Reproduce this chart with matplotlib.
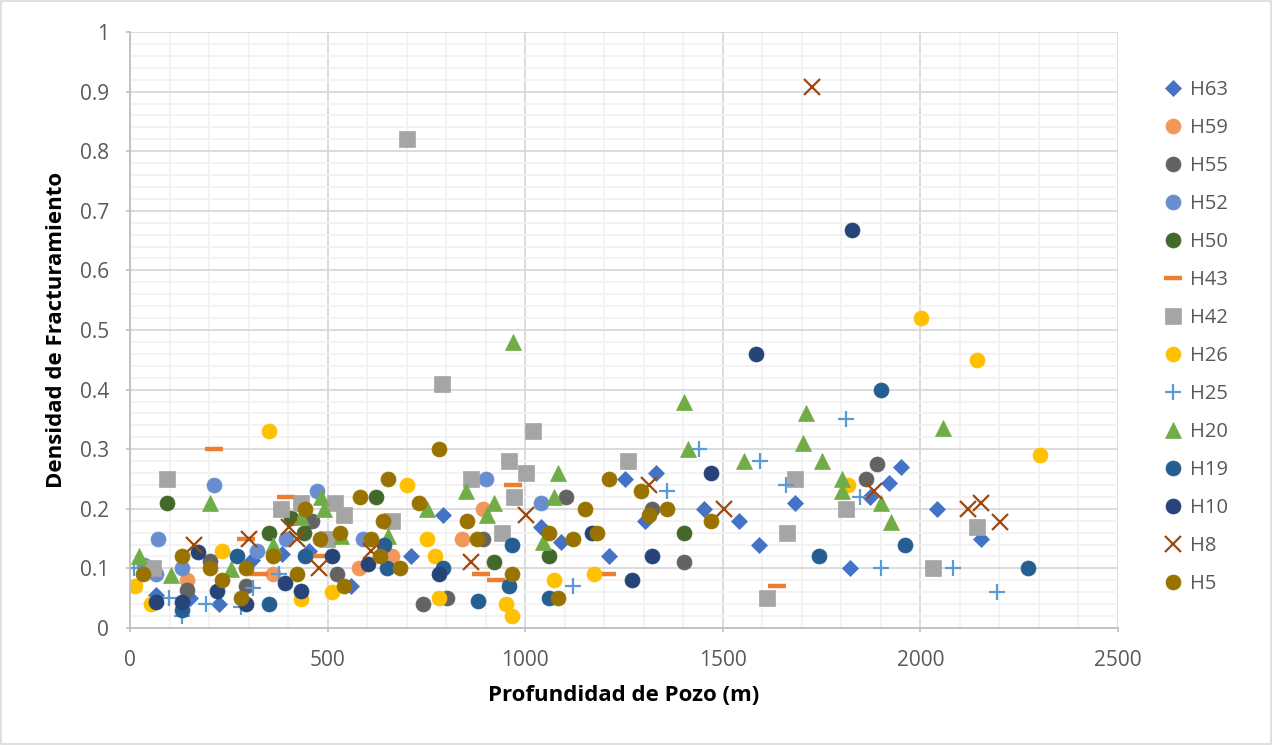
import matplotlib
matplotlib.use("Agg")
import matplotlib.pyplot as plt
from matplotlib.patches import Rectangle
from matplotlib.ticker import MultipleLocator

plt.rcParams['font.family'] = ['Open Sans', 'DejaVu Sans']

# ---------------- data ----------------
series_names = ["H63", "H59", "H55", "H52", "H50", "H43", "H42",
                "H26", "H25", "H20", "H19", "H10", "H8", "H5"]

h63_x = [65, 153, 225, 309, 385, 453, 559, 712, 792, 1040, 1091, 1211, 1253, 1302, 1331,
         1452, 1542, 1591, 1682, 1823, 1872, 1920, 1952, 2042, 2153]
h63_y = [0.055, 0.05, 0.04, 0.114, 0.125, 0.13, 0.07, 0.12, 0.19, 0.17, 0.145, 0.12, 0.25, 0.18, 0.26,
         0.20, 0.18, 0.14, 0.21, 0.10, 0.22, 0.243, 0.27, 0.20, 0.15]

h59_x = [143, 362, 580, 663, 841, 892]
h59_y = [0.08, 0.09, 0.10, 0.12, 0.15, 0.20]

h55_x = [143, 203, 293, 461, 523, 742, 802, 892, 1104, 1322, 1401, 1862, 1891]
h55_y = [0.064, 0.112, 0.07, 0.18, 0.09, 0.04, 0.05, 0.15, 0.22, 0.20, 0.11, 0.25, 0.275]

h52_x = [35, 71, 65, 132, 213, 322, 394, 473, 590, 902, 1041]
h52_y = [0.105, 0.15, 0.09, 0.10, 0.24, 0.13, 0.15, 0.23, 0.15, 0.25, 0.21]

h50_x = [93, 352, 407, 441, 622, 922, 1061, 1401]
h50_y = [0.21, 0.16, 0.185, 0.16, 0.22, 0.11, 0.12, 0.16]

h43_x = [213, 293, 327, 394, 484, 888, 926, 970, 1208, 1636]
h43_y = [0.30, 0.15, 0.09, 0.22, 0.12, 0.09, 0.08, 0.24, 0.09, 0.07]

h42_x = [59, 93, 381, 432, 499, 519, 542, 663, 702, 790, 863, 942, 960, 972, 1003, 1020,
         1261, 1612, 1662, 1682, 1813, 2031, 2142]
h42_y = [0.10, 0.25, 0.20, 0.21, 0.15, 0.21, 0.19, 0.18, 0.82, 0.41, 0.25, 0.16, 0.28, 0.22, 0.26, 0.33,
         0.28, 0.05, 0.16, 0.25, 0.20, 0.10, 0.17]

h26_x = [12, 52, 232, 352, 432, 512, 702, 751, 772, 783, 951, 967, 1072, 1173, 1816, 2001, 2142, 2302]
h26_y = [0.07, 0.041, 0.13, 0.33, 0.049, 0.06, 0.24, 0.15, 0.12, 0.05, 0.04, 0.02, 0.08, 0.09, 0.24, 0.52, 0.45, 0.29]

h25_x = [10, 99, 132, 192, 280, 312, 377, 1122, 1360, 1441, 1593, 1661, 1812, 1848, 1901, 2082, 2193]
h25_y = [0.10, 0.05, 0.02, 0.041, 0.035, 0.067, 0.09, 0.07, 0.23, 0.30, 0.28, 0.24, 0.35, 0.22, 0.10, 0.10, 0.06]

h20_x = [23, 103, 203, 255, 362, 432, 483, 491, 533, 654, 751, 850, 903, 922, 970, 1046, 1072, 1082,
         1401, 1411, 1553, 1702, 1711, 1750, 1801, 1801, 1901, 1926, 2058]
h20_y = [0.12, 0.089, 0.21, 0.099, 0.14, 0.186, 0.22, 0.20, 0.155, 0.155, 0.20, 0.23, 0.19, 0.21, 0.48, 0.145, 0.22, 0.26,
         0.38, 0.30, 0.28, 0.31, 0.36, 0.28, 0.25, 0.23, 0.21, 0.178, 0.335]

h19_x = [132, 271, 352, 443, 643, 651, 792, 881, 959, 967, 1059, 1743, 1901, 1962, 2272]
h19_y = [0.03, 0.12, 0.04, 0.12, 0.14, 0.10, 0.10, 0.045, 0.07, 0.14, 0.05, 0.12, 0.40, 0.14, 0.10]

h10_x = [65, 132, 172, 220, 293, 393, 432, 512, 603, 783, 1170, 1271, 1321, 1469, 1583, 1826]
h10_y = [0.044, 0.044, 0.128, 0.062, 0.04, 0.076, 0.062, 0.12, 0.107, 0.09, 0.16, 0.08, 0.12, 0.26, 0.46, 0.668]

h8_x = [162, 301, 402, 423, 479, 610, 863, 1003, 1312, 1502, 1725, 1882, 2121, 2153, 2201]
h8_y = [0.14, 0.15, 0.17, 0.15, 0.10, 0.13, 0.11, 0.19, 0.24, 0.20, 0.908, 0.23, 0.20, 0.21, 0.178]

h5_x = [33, 132, 203, 233, 281, 293, 362, 422, 443, 481, 532, 542, 583, 610, 633, 641, 654, 684,
        732, 783, 853, 879, 967, 1061, 1082, 1122, 1152, 1182, 1211, 1292, 1312, 1360, 1471]
h5_y = [0.09, 0.12, 0.10, 0.08, 0.05, 0.10, 0.12, 0.09, 0.20, 0.15, 0.16, 0.07, 0.22, 0.15, 0.12, 0.18, 0.25, 0.10,
        0.21, 0.30, 0.18, 0.15, 0.09, 0.16, 0.05, 0.15, 0.20, 0.16, 0.25, 0.23, 0.19, 0.20, 0.18]

x_ticks = [0, 500, 1000, 1500, 2000, 2500]
y_ticks = [0, 0.1, 0.2, 0.3, 0.4, 0.5, 0.6, 0.7, 0.8, 0.9, 1.0]
y_tick_labels = ["0", "0.1", "0.2", "0.3", "0.4", "0.5", "0.6", "0.7", "0.8", "0.9", "1"]

series_data = {
    "H63": (h63_x, h63_y), "H59": (h59_x, h59_y), "H55": (h55_x, h55_y),
    "H52": (h52_x, h52_y), "H50": (h50_x, h50_y), "H43": (h43_x, h43_y),
    "H42": (h42_x, h42_y), "H26": (h26_x, h26_y), "H25": (h25_x, h25_y),
    "H20": (h20_x, h20_y), "H19": (h19_x, h19_y), "H10": (h10_x, h10_y),
    "H8": (h8_x, h8_y), "H5": (h5_x, h5_y),
}

# ---------------- styles ----------------
styles = {
    "H63": dict(marker="D", color="#4472C4", ms=8.6),
    "H59": dict(marker="o", color="#F1975A", ms=10.8),
    "H55": dict(marker="o", color="#636363", ms=10.8),
    "H52": dict(marker="o", color="#698ED0", ms=10.8),
    "H50": dict(marker="o", color="#43682B", ms=10.8),
    "H43": dict(marker="_", color="#ED7D31", ms=13, mew=3.2),
    "H42": dict(marker="s", color="#A5A5A5", ms=12),
    "H26": dict(marker="o", color="#FFC000", ms=10.8),
    "H25": dict(marker="+", color="#5B9BD5", ms=12, mew=1.6),
    "H20": dict(marker="^", color="#70AD47", ms=12),
    "H19": dict(marker="o", color="#255E91", ms=10.8),
    "H10": dict(marker="o", color="#264478", ms=10.8),
    "H8": dict(marker="x", color="#9E480E", ms=11, mew=1.6),
    "H5": dict(marker="o", color="#997300", ms=10.8),
}

fig = plt.figure(figsize=(12.72, 7.45), dpi=100)
ax = fig.add_axes([130 / 1272, 1 - 628 / 745, (1118 - 130) / 1272, (628 - 32) / 745])

for name in series_names:
    xs, ys = series_data[name]
    st = styles[name]
    kw = dict(linestyle="none", marker=st["marker"], markersize=st["ms"], label=name)
    if st["marker"] in ("+", "x", "_"):
        kw.update(color=st["color"], markeredgewidth=st.get("mew", 1.5))
    else:
        kw.update(markerfacecolor=st["color"], markeredgecolor=st["color"], markeredgewidth=0.5,
                  color=st["color"])
    ax.plot(xs, ys, **kw)

ax.set_xlim(0, 2500)
ax.set_ylim(0, 1)
ax.set_xticks(x_ticks)
ax.set_xticklabels([str(t) for t in x_ticks])
ax.set_yticks(y_ticks)
ax.set_yticklabels(y_tick_labels)
ax.xaxis.set_minor_locator(MultipleLocator(100))
ax.yaxis.set_minor_locator(MultipleLocator(0.02))
ax.grid(which="major", color="#D9D9D9", linewidth=1.3, zorder=0)
ax.grid(which="minor", color="#F2F2F2", linewidth=1.3, zorder=0)
ax.set_axisbelow(True)
ax.tick_params(which="minor", length=0)
ax.tick_params(which="major", length=3, width=1.2, color="#BFBFBF", direction="out")
ax.tick_params(axis="both", labelsize=15, labelcolor="#595959")
ax.tick_params(axis="y", pad=12)
ax.tick_params(axis="x", pad=13)
for s in ["top", "right"]:
    ax.spines[s].set_visible(False)
for s in ["left", "bottom"]:
    ax.spines[s].set_color("#BFBFBF")
    ax.spines[s].set_linewidth(1.3)

ax.set_xlabel("Profundidad de Pozo (m)", fontsize=16, fontweight="bold", color="#000000", labelpad=10)
ax.set_ylabel("Densidad de Fracturamiento", fontsize=16, fontweight="bold", color="#000000", labelpad=9)

leg = ax.legend(loc="upper left", bbox_to_anchor=(1163 / 1272, 1 - 80 / 745),
                bbox_transform=fig.transFigure, frameon=False, fontsize=14.5,
                handlelength=1.0, handletextpad=0.35, labelspacing=0.895, borderpad=0, borderaxespad=0)
for t in leg.get_texts():
    t.set_color("#595959")

fig.patches.append(Rectangle((1 / 1272, 1 / 745), 1 - 2 / 1272, 1 - 2 / 745, transform=fig.transFigure,
                             fill=False, edgecolor="#D9D9D9", linewidth=1.2))

fig.savefig("out.png", dpi=100, facecolor="white")
